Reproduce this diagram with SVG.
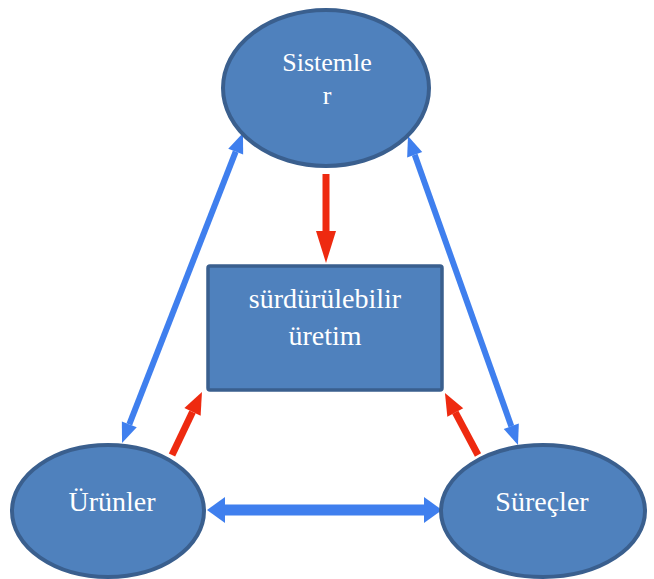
<svg xmlns="http://www.w3.org/2000/svg" width="654" height="579" viewBox="0 0 654 579">
<style>
.node{fill:#4F81BD;stroke:#3A5F8E;stroke-width:4}
.box{fill:#4F81BD;stroke:#3A5F8E;stroke-width:3.5}
.lbl{font-family:"Liberation Serif","Times New Roman",serif;font-size:28px;fill:#ffffff;text-anchor:middle}
.blue{stroke:#3F7FEE;fill:none}
.red{stroke:#EE2A10;fill:none}
</style>
<defs>
<marker id="bh" markerUnits="userSpaceOnUse" markerWidth="20" markerHeight="16" refX="0" refY="8" orient="auto-start-reverse" overflow="visible"><path d="M0,0 L20,8 L0,16 z" fill="#3F7FEE"/></marker>
<marker id="bhb" markerUnits="userSpaceOnUse" markerWidth="18" markerHeight="26" refX="0" refY="13" orient="auto-start-reverse" overflow="visible"><path d="M0,0 L18,13 L0,26 z" fill="#3F7FEE"/></marker>
<marker id="rh" markerUnits="userSpaceOnUse" markerWidth="22" markerHeight="18" refX="0" refY="9" orient="auto" overflow="visible"><path d="M0,0 L22,9 L0,18 z" fill="#EE2A10"/></marker>
<marker id="rhl" markerUnits="userSpaceOnUse" markerWidth="32" markerHeight="20" refX="0" refY="10" orient="auto" overflow="visible"><path d="M0,0 L32,10 L0,20 z" fill="#EE2A10"/></marker>
</defs>
<rect width="654" height="579" fill="#ffffff"/>
<g id="connectors">
<line class="blue" x1="235.7" y1="151.6" x2="129.3" y2="424.4" stroke-width="6" marker-start="url(#bh)" marker-end="url(#bh)"/>
<line class="blue" x1="414.7" y1="154.8" x2="511.3" y2="426.2" stroke-width="6" marker-start="url(#bh)" marker-end="url(#bh)"/>
<line class="blue" x1="225" y1="510" x2="424" y2="510" stroke-width="11" marker-start="url(#bhb)" marker-end="url(#bhb)"/>
<line class="red" x1="326" y1="174" x2="326" y2="231" stroke-width="7" marker-end="url(#rhl)"/>
<line class="red" x1="172" y1="455" x2="192.5" y2="411.9" stroke-width="7" marker-end="url(#rh)"/>
<line class="red" x1="478" y1="455" x2="455.3" y2="412.4" stroke-width="7" marker-end="url(#rh)"/>
</g>
<g id="sistemler">
<ellipse class="node" cx="326" cy="88" rx="103" ry="78"/>
<text class="lbl" x="327" y="71" style="font-size:26px">Sistemle</text>
<text class="lbl" x="327" y="104" style="font-size:26px">r</text>
</g>
<g id="surdurulebilir">
<rect class="box" x="208" y="266" width="234" height="124" rx="2"/>
<text class="lbl" x="325" y="308">sürdürülebilir</text>
<text class="lbl" x="325" y="345">üretim</text>
</g>
<g id="urunler">
<ellipse class="node" cx="108" cy="511" rx="96" ry="66"/>
<text class="lbl" x="112" y="511">Ürünler</text>
</g>
<g id="surecler">
<ellipse class="node" cx="543" cy="511" rx="102" ry="66"/>
<text class="lbl" x="542" y="511">Süreçler</text>
</g>
</svg>
